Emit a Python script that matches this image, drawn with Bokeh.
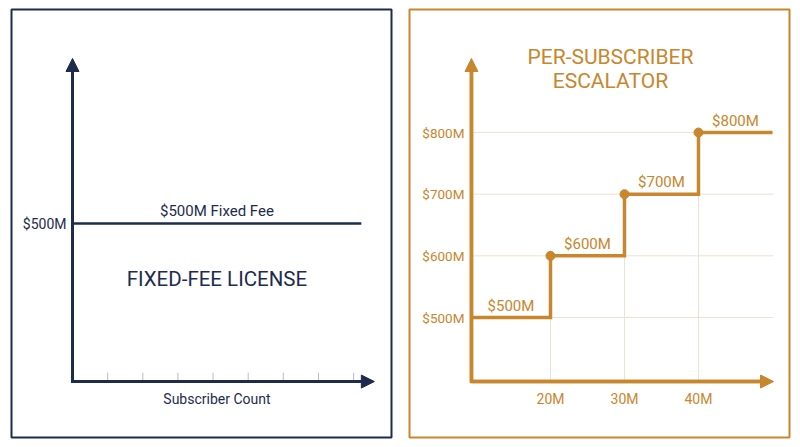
from bokeh.plotting import figure
from bokeh.models import Range1d, Arrow, NormalHead
from bokeh.layouts import row
from bokeh.core.properties import value
from bokeh.embed import file_html
from bokeh.resources import INLINE

NAVY = "#1d2b4e"
GOLD = "#c8862d"
GRID = "#ece2d2"
TICK = "#b9bdc5"
FONT = "Roboto"

# ---------------- data: fixed-fee panel ----------------
fixed_fee = 500
fixed_fee_label = "$500M Fixed Fee"
fixed_tick_label = "$500M"
left_title = "FIXED-FEE LICENSE"
left_xlabel = "Subscriber Count"
left_ticks = [1, 2, 3, 4, 5, 6, 7, 8]
fixed_x_end = 8.22

# ---------------- data: escalator panel ----------------
tier_start = [9.32, 20, 30, 40]
tier_end = [20, 30, 40, 50]
tier_fee = [500, 600, 700, 800]
tier_labels = ["$500M", "$600M", "$700M", "$800M"]
x_ticks = [20, 30, 40]
x_tick_labels = ["20M", "30M", "40M"]
y_ticks = [500, 600, 700, 800]
y_tick_labels = ["$500M", "$600M", "$700M", "$800M"]
right_title = ["PER-SUBSCRIBER", "ESCALATOR"]


def base_fig(xr, yr, color, bl, br):
    p = figure(width=400, height=447, x_range=Range1d(*xr), y_range=Range1d(*yr),
               x_axis_type=None, y_axis_type=None, toolbar_location=None,
               output_backend="svg", min_border_left=bl, min_border_right=br,
               min_border_top=9, min_border_bottom=10)
    p.outline_line_color = color
    p.outline_line_width = 2
    p.background_fill_color = "white"
    p.border_fill_color = "white"
    return p


# ================= left panel =================
p1 = base_fig((-1.736, 9.078), (-177, 1177), NAVY, 11, 9)
l_axis_top = 1022
l_axis_right = 8.59

p1.segment(x0=left_ticks, y0=[0] * len(left_ticks), x1=left_ticks, y1=[28] * len(left_ticks),
           line_color=TICK, line_width=1)
p1.line([0, 0, l_axis_right - 0.2], [l_axis_top - 30, 0, 0], line_color=NAVY,
        line_width=3, line_join="miter")
p1.add_layout(Arrow(end=NormalHead(size=13, fill_color=NAVY, line_color=NAVY),
                    x_start=0, y_start=0, x_end=0, y_end=l_axis_top,
                    line_color=NAVY, line_width=3))
p1.add_layout(Arrow(end=NormalHead(size=13, fill_color=NAVY, line_color=NAVY),
                    x_start=0, y_start=0, x_end=l_axis_right, y_end=0,
                    line_color=NAVY, line_width=3))

p1.line([0, fixed_x_end], [fixed_fee, fixed_fee], line_color=NAVY, line_width=2.5)

p1.text(x=[0], y=[fixed_fee], text=[fixed_tick_label], x_offset=-6,
        text_align="right", text_baseline="middle", text_font=value(FONT),
        text_font_size="14px", text_color=NAVY)
p1.text(x=[fixed_x_end / 2], y=[fixed_fee], text=[fixed_fee_label], y_offset=-13,
        text_align="center", text_baseline="middle", text_font=value(FONT),
        text_font_size="15px", text_color=NAVY)
p1.text(x=[fixed_x_end / 2], y=[326], text=[left_title],
        text_align="center", text_baseline="middle", text_font=value(FONT),
        text_font_size="20.5px", text_color=NAVY)
p1.text(x=[fixed_x_end / 2], y=[0], text=[left_xlabel], y_offset=17,
        text_align="center", text_baseline="middle", text_font=value(FONT),
        text_font_size="14px", text_color=NAVY)

# ================= right panel =================
p2 = base_fig((0.946, 52.30), (305.4, 999.5), GOLD, 9, 11)
axis_x = tier_start[0]
axis_y = 396.2
r_axis_top = 920
r_axis_right = 50.14

# grid
p2.segment(x0=[axis_x] * len(y_ticks), y0=y_ticks, x1=[r_axis_right] * len(y_ticks), y1=y_ticks,
           line_color=GRID, line_width=1)
p2.segment(x0=x_ticks, y0=[axis_y] * len(x_ticks), x1=x_ticks, y1=tier_fee[:-1],
           line_color=GRID, line_width=1)

# axes
p2.line([axis_x, axis_x, r_axis_right - 1.5], [r_axis_top - 20, axis_y, axis_y],
        line_color=GOLD, line_width=3.5, line_join="miter")
p2.add_layout(Arrow(end=NormalHead(size=13, fill_color=GOLD, line_color=GOLD),
                    x_start=axis_x, y_start=axis_y, x_end=axis_x, y_end=r_axis_top,
                    line_color=GOLD, line_width=3.5))
p2.add_layout(Arrow(end=NormalHead(size=13, fill_color=GOLD, line_color=GOLD),
                    x_start=axis_x, y_start=axis_y, x_end=r_axis_right, y_end=axis_y,
                    line_color=GOLD, line_width=3.5))

# step line
xs, ys = [], []
for s, e, f in zip(tier_start, tier_end, tier_fee):
    xs += [s, e]
    ys += [f, f]
p2.line(xs, ys, line_color=GOLD, line_width=3.5, line_join="miter")
p2.scatter(x=tier_start[1:], y=tier_fee[1:], size=9, fill_color=GOLD, line_color=GOLD)

# labels
p2.text(x=[(s + e) / 2 for s, e in zip(tier_start, tier_end)], y=tier_fee, text=tier_labels,
        y_offset=-12, text_align="center", text_baseline="middle",
        text_font=value(FONT), text_font_size="15px", text_color=GOLD)
p2.text(x=[axis_x] * len(y_ticks), y=y_ticks, text=y_tick_labels, x_offset=-7,
        text_align="right", text_baseline="middle", text_font=value(FONT),
        text_font_size="13.5px", text_color=GOLD)
p2.text(x=x_ticks, y=[axis_y] * len(x_ticks), text=x_tick_labels, y_offset=17,
        text_align="center", text_baseline="middle", text_font=value(FONT),
        text_font_size="14px", text_color=GOLD)
p2.text(x=[28.1, 28.1], y=[923, 884], text=right_title,
        text_align="center", text_baseline="middle", text_font=value(FONT),
        text_font_size="21px", text_color=GOLD)

layout = row(p1, p2)
open("out.html", "w").write(file_html(layout, INLINE))
